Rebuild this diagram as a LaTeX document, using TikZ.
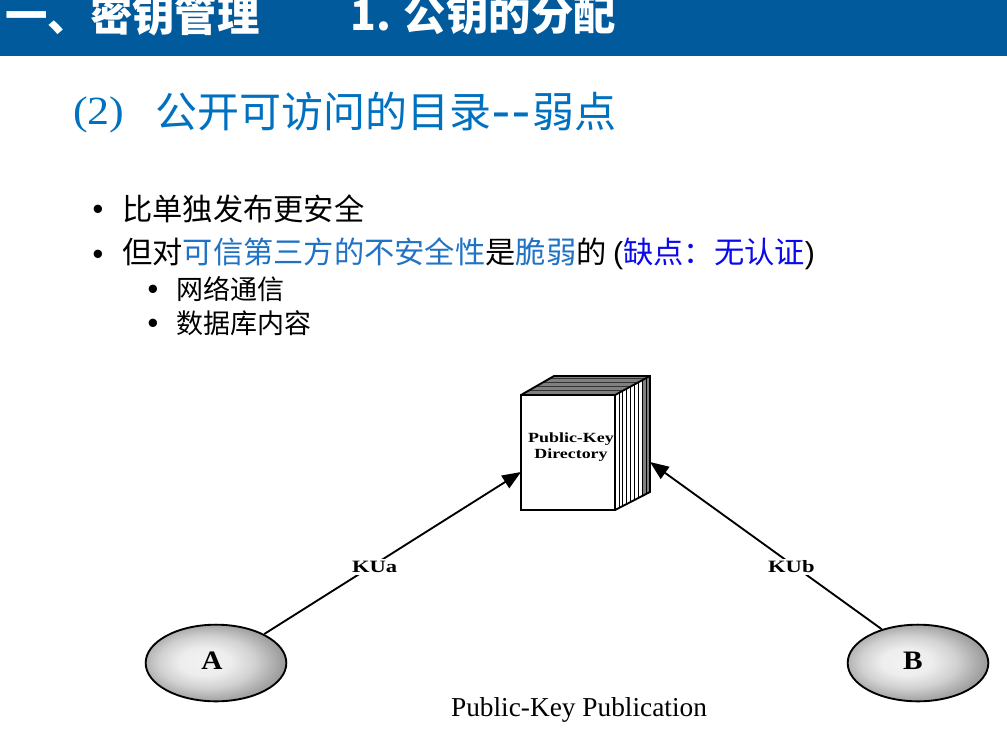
\documentclass[tikz,border=0pt]{standalone}
\usepackage{xcolor}
\usepackage{fontspec}
\setmainfont{Noto Sans CJK SC}
\newfontfamily\latinfont{Liberation Sans}
\newfontfamily\figfont{Liberation Serif}
\usetikzlibrary{arrows.meta,positioning,shapes.geometric}
\definecolor{slidebar}{RGB}{0,90,156}
\definecolor{slideblue}{RGB}{0,112,192}
\definecolor{textblue}{RGB}{31,114,196}
\definecolor{purewblue}{RGB}{10,10,235}
\pgfdeclareradialshading{userball}{\pgfpoint{-5bp}{1bp}}{%
  color(0bp)=(black!5); color(9bp)=(black!7); color(17bp)=(black!18);
  color(25bp)=(black!36); color(31bp)=(black!47); color(50bp)=(black!47)}

\begin{document}
\begin{tikzpicture}[
  x=0.75pt, y=-0.75pt,
  heading/.style={anchor=west, inner sep=0pt, text=white, font=\fontsize{31.8}{32}\selectfont\bfseries},
  subtitle/.style={anchor=base west, inner sep=0pt, text=slideblue, font=\fontsize{31.5}{32}\selectfont},
  bodyline/.style={anchor=west, inner sep=0pt, font=\fontsize{22.7}{24}\selectfont},
  subline/.style={anchor=west, inner sep=0pt, font=\fontsize{20.25}{22}\selectfont},
  dotmark/.style={inner sep=0pt, font=\latinfont\fontsize{23}{23}\selectfont},
  user/.style={ellipse, draw=black, line width=1.4pt, minimum width=105.5pt, minimum height=57.5pt,
               inner sep=0pt, shading=userball},
  username/.style={inner sep=0pt, xscale=1.1, font=\figfont\bfseries\fontsize{20}{20}\selectfont},
  keylabel/.style={fill=white, inner sep=1.5pt, yshift=-2pt, xscale=1.3, font=\figfont\bfseries\fontsize{13}{13}\selectfont},
  arrow/.style={-{Triangle[length=14pt, width=11pt]}, line width=1.4pt},
  pageline/.style={black, line width=0.55pt}
]
\useasboundingbox (0,0) rectangle (1007,733);

% Header bar
\fill[slidebar] (0,0) rectangle (1007,56);
\node[heading] (chapter) at (5,15) {一、密钥管理};
\node[heading] (section) at (350,15) {1. 公钥的分配};

% Subtitle
\node[subtitle, font=\figfont\fontsize{30}{32}\selectfont, xscale=1.1] (subnum) at (73,124) {(2)};
\node[subtitle] (subtext) at (155,127) {公开可访问的目录{\figfont\fontsize{40}{40}\selectfont\kern1pt{-}\kern2pt{-}\kern1pt}弱点};

% Bullets
\node[dotmark] (dot1) at (98,212) {•};
\node[bodyline] (line1) at (122,209) {比单独发布更安全};
\node[dotmark] (dot2) at (98,257) {•};
\node[bodyline] (line2) at (122,254) {但对{\color{textblue}可信第三方的不安全性}是{\color{textblue}脆弱}的\kern5pt{\latinfont(}{\color{purewblue}缺点：无认证}{\latinfont)}};
\node[dotmark] (dot3) at (153,292) {•};
\node[subline] (line3) at (176,289) {网络通信};
\node[dotmark] (dot4) at (153,326) {•};
\node[subline] (line4) at (176,323) {数据库内容};

% Directory book
\fill[black!50] (521,395) -- (554,376) -- (650,376) -- (615,395) -- cycle;
\fill[white] (615,395) -- (650,376) -- (650,492) -- (615,510) -- cycle;
\fill[black!50] (643,380) -- (650,376) -- (650,492) -- (643,496) -- cycle;
\foreach \k in {2,4,6,8}{
  \draw[pageline, black!80] ({521+\k*33/9},{395-\k*19/9}) -- ({615+\k*35/9},{395-\k*19/9});
}
\foreach \k in {1,...,8}{
  \draw[pageline] ({615+\k*35/9},{395-\k*19/9}) -- ({615+\k*35/9},{510-\k*18/9});
}
\draw[line width=1.4pt] (521,395) -- (554,376) -- (650,376) -- (650,492) -- (615,510);
\draw[line width=1.4pt] (615,395) -- (650,376);
\node[rectangle, draw=black, fill=white, line width=1.4pt, minimum width=70.5pt, minimum height=86.25pt,
      inner sep=0pt] (directory) at (568,452.5) {};
\node[inner sep=0pt, align=center, xscale=1.28, font=\figfont\bfseries\fontsize{10.5}{11.5}\selectfont]
  (dirtext) at (571,447) {Public-Key\\Directory};
\coordinate (inleft) at (521,472);
\coordinate (inright) at (650,462);

% Users
\node[user] (usera) at (216,663) {};
\node[user] (userb) at (918,663) {};
\node[username] (namea) at (212,661) {A};
\node[username] (nameb) at (913,661) {B};

% Publishing keys
\draw[arrow] (usera.31) -- node[keylabel, pos=0.43] (kua) {KUa} (inleft);
\draw[arrow] (userb.137) -- node[keylabel, pos=0.39] (kub) {KUb} (inright);

% Caption
\node[inner sep=0pt, font=\figfont\fontsize{20.5}{22}\selectfont] (caption) at (579,710) {Public-Key Publication};

\end{tikzpicture}
\end{document}
